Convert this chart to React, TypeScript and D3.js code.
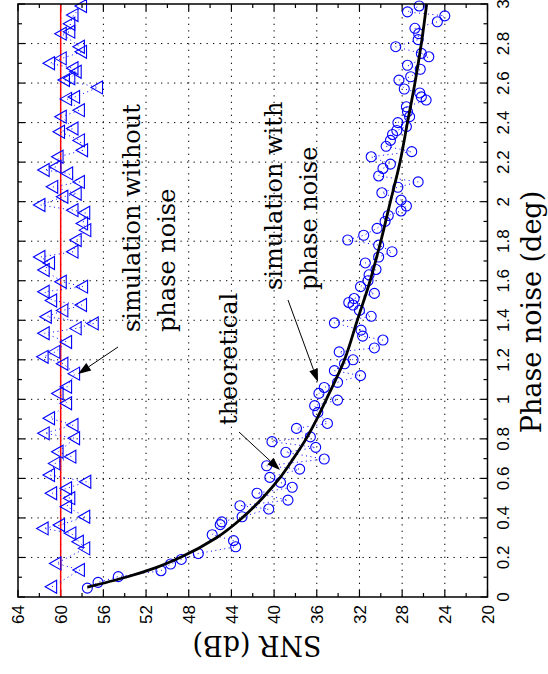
import React from 'react';
import * as d3 from 'd3';

const phaseTicks = [0, 0.2, 0.4, 0.6, 0.8, 1, 1.2, 1.4, 1.6, 1.8, 2, 2.2, 2.4, 2.6, 2.8, 3];
const phaseMinor = [0.1, 0.3, 0.5, 0.7, 0.9, 1.1, 1.3, 1.5, 1.7, 1.9, 2.1, 2.3, 2.5, 2.7, 2.9];
const snrTicks = [20, 24, 28, 32, 36, 40, 44, 48, 52, 56, 60, 64];
const snrMinor = [22, 26, 30, 34, 38, 42, 46, 50, 54, 58, 62];

const referenceSNR = 60;

const theoryPhase = [0.05, 0.1, 0.15, 0.2, 0.3, 0.4, 0.5, 0.6, 0.7, 0.8, 0.9, 1.0, 1.2, 1.4, 1.6, 1.8, 2.0, 2.2, 2.4, 2.6, 2.8, 3.0];
const theorySNR = [57.5, 53.9, 51.0, 48.8, 45.4, 43.0, 41.1, 39.5, 38.2, 37.0, 36.0, 35.1, 33.4, 32.2, 31.0, 30.0, 29.1, 28.2, 27.5, 26.8, 26.2, 25.7];

const circPhase = [0.045, 0.074, 0.103, 0.133, 0.167, 0.19, 0.22, 0.254, 0.285, 0.315, 0.366, 0.38, 0.406, 0.445, 0.462, 0.49, 0.525, 0.555, 0.58, 0.605, 0.647, 0.664, 0.698, 0.732, 0.757, 0.786, 0.81, 0.853, 0.878, 0.934, 0.968, 0.996, 1.03, 1.06, 1.086, 1.12, 1.145, 1.18, 1.2, 1.24, 1.26, 1.3, 1.32, 1.35, 1.387, 1.42, 1.45, 1.477, 1.49, 1.51, 1.536, 1.57, 1.6, 1.63, 1.657, 1.69, 1.72, 1.747, 1.78, 1.806, 1.83, 1.865, 1.9, 1.93, 1.953, 1.978, 2.008, 2.045, 2.073, 2.1, 2.13, 2.168, 2.19, 2.227, 2.253, 2.28, 2.31, 2.34, 2.36, 2.38, 2.4, 2.43, 2.455, 2.48, 2.514, 2.53, 2.55, 2.57, 2.615, 2.632, 2.67, 2.69, 2.733, 2.75, 2.784, 2.82, 2.85, 2.877, 2.91, 2.94, 2.96, 2.99];
const circSNR = [57.5, 56.5, 54.6, 50.6, 49.7, 48.7, 47.1, 43.6, 43.8, 45.8, 45.05, 44.9, 43.0, 40.5, 43.2, 38.7, 41.6, 38.3, 39.4, 40.4, 37.6, 40.7, 35.3, 38.9, 36.1, 40.2, 36.6, 37.9, 35.0, 35.9, 36.2, 34.05, 35.8, 35.3, 34.05, 31.9, 34.35, 33.4, 32.6, 33.9, 30.6, 29.8, 31.7, 31.85, 34.35, 30.9, 32.0, 32.6, 33.0, 32.5, 30.6, 31.9, 31.2, 31.1, 30.45, 31.45, 30.2, 28.95, 30.2, 33.1, 31.6, 30.35, 29.6, 29.3, 28.1, 27.6, 28.1, 29.9, 28.4, 26.5, 30.2, 29.8, 29.1, 30.9, 27.1, 29.5, 29.1, 28.9, 28.5, 27.6, 28.4, 27.3, 27.5, 27.6, 25.75, 26.2, 26.35, 27.8, 28.3, 27.2, 26.3, 27.5, 25.5, 26.2, 28.6, 26.5, 26.45, 26.8, 24.7, 24.0, 27.5, 26.4];

const triPhase = [0.052, 0.137, 0.17, 0.246, 0.28, 0.322, 0.347, 0.364, 0.406, 0.457, 0.5, 0.525, 0.55, 0.583, 0.617, 0.676, 0.71, 0.735, 0.803, 0.828, 0.87, 0.904, 0.98, 1.03, 1.064, 1.13, 1.18, 1.215, 1.24, 1.29, 1.334, 1.359, 1.384, 1.418, 1.45, 1.477, 1.5, 1.544, 1.57, 1.595, 1.654, 1.69, 1.72, 1.747, 1.806, 1.856, 1.89, 1.944, 1.957, 1.983, 2.025, 2.04, 2.075, 2.1, 2.143, 2.16, 2.177, 2.227, 2.26, 2.31, 2.354, 2.37, 2.43, 2.463, 2.52, 2.53, 2.578, 2.615, 2.624, 2.657, 2.675, 2.7, 2.725, 2.758, 2.784, 2.85, 2.86, 2.9, 2.944, 2.99];
const triSNR = [60.8, 58.2, 60.4, 57.7, 58.3, 59.0, 61.6, 60.06, 57.7, 59.4, 59.1, 60.8, 59.4, 57.6, 61.0, 60.5, 59.0, 60.2, 58.65, 61.5, 58.8, 61.0, 59.4, 60.2, 59.4, 58.65, 59.75, 61.6, 60.5, 59.4, 61.5, 58.5, 56.9, 61.3, 59.75, 58.0, 60.8, 61.5, 57.9, 59.9, 61.5, 61.0, 61.9, 58.8, 58.5, 57.6, 57.9, 57.7, 58.8, 61.9, 59.75, 58.5, 60.7, 58.2, 59.3, 61.5, 60.4, 60.2, 57.9, 58.2, 60.06, 58.8, 59.9, 58.2, 59.4, 58.65, 56.5, 59.6, 59.1, 58.5, 58.8, 61.0, 59.9, 58.0, 58.2, 59.9, 59.1, 59.1, 58.8, 58.0];

const W = 593;
const H = 469.5;
const BLUE = '#0000ff';
const SERIF = '"DejaVu Serif", serif';
const SANS = '"Liberation Sans", Arial, sans-serif';

function Arrow({ x1, y1, x2, y2 }: { x1: number; y1: number; x2: number; y2: number }) {
  const dx = x2 - x1, dy = y2 - y1;
  const len = Math.hypot(dx, dy);
  const ux = dx / len, uy = dy / len;
  const hl = 13, hw = 4.5;
  const bx = x2 - ux * hl, by = y2 - uy * hl;
  const pts = `${x2},${y2} ${bx - uy * hw},${by + ux * hw} ${bx + uy * hw},${by - ux * hw}`;
  return (
    <g>
      <line x1={x1} y1={y1} x2={bx} y2={by} stroke="#000" strokeWidth={1} />
      <polygon points={pts} fill="#000" />
    </g>
  );
}

export default function App() {
  const x = d3.scaleLinear().domain([0, 3]).range([0, W]);
  const y = d3.scaleLinear().domain([20, 64]).range([H, 0]);

  const theory = theoryPhase.map((p, i) => [p, theorySNR[i]] as [number, number]);
  const circ = circPhase.map((p, i) => [p, circSNR[i]] as [number, number]);
  const tri = triPhase.map((p, i) => [p, triSNR[i]] as [number, number]);

  const line = d3.line<[number, number]>().x(d => x(d[0])).y(d => y(d[1]));
  const smooth = d3.line<[number, number]>().x(d => x(d[0])).y(d => y(d[1])).curve(d3.curveMonotoneX);

  const fmt = (t: number) => String(+t.toFixed(1));

  return (
    <svg width={548} height={674} style={{ position: 'absolute', left: 0, top: 0, background: '#fff' }}>
      <rect x={0} y={0} width={548} height={674} fill="#fff" />
      <g transform="translate(18,597) rotate(-90)">
        {/* grid */}
        {phaseTicks.slice(1, -1).map(t => (
          <line key={'gx' + t} x1={x(t)} x2={x(t)} y1={0} y2={H} stroke="#000" strokeWidth={1} strokeDasharray="1.3 5.2" />
        ))}
        {snrTicks.slice(1, -1).map(t => (
          <line key={'gy' + t} x1={0} x2={W} y1={y(t)} y2={y(t)} stroke="#000" strokeWidth={1} strokeDasharray="1.3 5.2" />
        ))}
        {/* ticks */}
        {phaseTicks.map(t => (
          <g key={'tx' + t}>
            <line x1={x(t)} x2={x(t)} y1={H} y2={H - 7} stroke="#000" strokeWidth={1.2} />
            <line x1={x(t)} x2={x(t)} y1={0} y2={7} stroke="#000" strokeWidth={1.2} />
          </g>
        ))}
        {phaseMinor.map(t => (
          <g key={'mx' + t}>
            <line x1={x(t)} x2={x(t)} y1={H} y2={H - 4} stroke="#000" strokeWidth={1.2} />
            <line x1={x(t)} x2={x(t)} y1={0} y2={4} stroke="#000" strokeWidth={1.2} />
          </g>
        ))}
        {snrTicks.map(t => (
          <g key={'ty' + t}>
            <line x1={0} x2={7} y1={y(t)} y2={y(t)} stroke="#000" strokeWidth={1.2} />
            <line x1={W} x2={W - 7} y1={y(t)} y2={y(t)} stroke="#000" strokeWidth={1.2} />
          </g>
        ))}
        {snrMinor.map(t => (
          <g key={'my' + t}>
            <line x1={0} x2={4} y1={y(t)} y2={y(t)} stroke="#000" strokeWidth={1.2} />
            <line x1={W} x2={W - 4} y1={y(t)} y2={y(t)} stroke="#000" strokeWidth={1.2} />
          </g>
        ))}

        {/* reference line */}
        <line x1={0} x2={W} y1={y(referenceSNR)} y2={y(referenceSNR)} stroke="#ff0000" strokeWidth={1.5} />

        {/* dotted connecting lines */}
        <path d={line(tri) || ''} fill="none" stroke={BLUE} strokeWidth={1} strokeDasharray="1 3.5" />
        <path d={line(circ) || ''} fill="none" stroke={BLUE} strokeWidth={1} strokeDasharray="1 3.5" />

        {/* triangles */}
        {tri.map((d, i) => (
          <path key={'t' + i} transform={`translate(${x(d[0])},${y(d[1])})`} d="M0,-7 L6.5,4.5 L-6.5,4.5 Z" fill="none" stroke={BLUE} strokeWidth={1.1} />
        ))}
        {/* circles */}
        {circ.map((d, i) => (
          <circle key={'c' + i} cx={x(d[0])} cy={y(d[1])} r={5} fill="none" stroke={BLUE} strokeWidth={1.1} />
        ))}

        {/* theoretical curve */}
        <path d={smooth(theory) || ''} fill="none" stroke="#000" strokeWidth={2.8} />

        {/* frame */}
        <rect x={0} y={0} width={W} height={H} fill="none" stroke="#000" strokeWidth={1.5} />

        {/* tick labels */}
        {phaseTicks.map(t => (
          <text key={'lx' + t} x={x(t)} y={H + 21} textAnchor="middle" fontFamily={SANS} fontSize={17} fill="#000">{fmt(t)}</text>
        ))}
        {snrTicks.map(t => (
          <text key={'ly' + t} x={-8} y={y(t) + 6.2} textAnchor="end" fontFamily={SANS} fontSize={17} fill="#000">{t}</text>
        ))}

        {/* axis labels */}
        <text x={285} y={523} textAnchor="middle" fontFamily={SERIF} fontSize={27} fill="#000">Phase noise (deg)</text>
        <text transform="translate(-39,239) rotate(-90)" textAnchor="middle" fontFamily={SERIF} fontSize={27} fill="#000">SNR (dB)</text>

        {/* annotations */}
        <text x={265} y={122} fontFamily={SERIF} fontSize={24} fill="#000">simulation without</text>
        <text x={265} y={157} fontFamily={SERIF} fontSize={24} fill="#000">phase noise</text>
        <text x={172} y={219} fontFamily={SERIF} fontSize={24} fill="#000">theoretical</text>
        <text x={307} y={264} fontFamily={SERIF} fontSize={24} fill="#000">simulation with</text>
        <text x={307} y={299} fontFamily={SERIF} fontSize={24} fill="#000">phase noise</text>

        <Arrow x1={250} y1={100} x2={223} y2={60} />
        <Arrow x1={165} y1={221} x2={127} y2={262} />
        <Arrow x1={297} y1={270} x2={215} y2={300} />
      </g>
    </svg>
  );
}
